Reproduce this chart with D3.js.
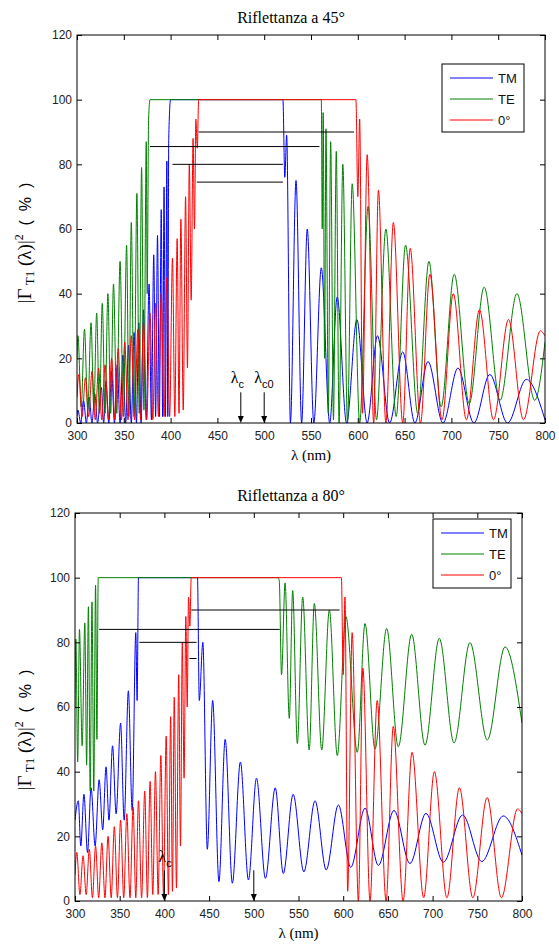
<!DOCTYPE html>
<html>
<head>
<meta charset="utf-8">
<script src="https://cdn.jsdelivr.net/npm/d3@7"></script>
<style>
  body { margin: 0; background: #fff; }
  svg text { font-family: Arial, "Liberation Sans", sans-serif; }
</style>
</head>
<body>
<div id="chart"></div>
<script>
"use strict";

// Reflectance curves [wavelength nm, %], peaks and troughs
const tm45 = [[300,2],[301,4],[304,0],[307,7],[310,0],[313,8],[316,0],[319,9],[322,0],[326,11],[328.5,0],[331,13],[334,0],[337,16],[340,0],[343,18],[346,0],[349,21],[352,0],[355,24],[358,0],[361,28],[363.5,0],[366,31],[368.5,0],[371,35],[374,1],[377,43],[379.5,1],[382,52],[384,2],[386,58],[388,2],[390,66],[391.5,2],[393,73],[394.5,2],[396,81],[397,2],[398,88],[400,100],[520,100],[522,76],[524,89],[528,0],[534,75],[540,0],[546,60],[553,0],[561,48],[570,0],[578,39],[588,0],[599,32],[610,0],[621,27],[634,0],[648,22],[661,0],[675,19],[691,0],[707,17],[724,0],[741,15],[760,0],[780,13.5],[800,1]];

const te45 = [[300,20],[301,27],[304.5,5],[308,29],[311.5,4],[315,31],[318,4],[321,34],[324,3],[327,37],[330,3],[333,40],[336,3],[339,43],[342.5,3],[346,50],[349.5,2],[353,55],[355.5,2],[358,62],[361,2],[364,71],[366.5,3],[369,79],[371.5,4],[374,87],[375,40],[376.5,94],[378,100],[561,100],[562,60],[563,96],[564.5,20],[566,91],[568.5,3],[571,87],[574,1],[577,84],[580,0],[584,80],[589,0],[594,74],[602,0],[611,67],[620,1],[630,60],[641,2],[651,55],[664,3],[676,50],[689,5],[703,46],[719,6],[735,42],[752,7],[770,40],[789,7],[800,25]];

// normal incidence, same curve in both panels
const r0 = [[300,8],[302,15],[305.5,2],[309,14],[312.5,2],[316,16],[319.5,1],[323,17],[326.5,1],[330,18],[333.5,1],[337,20],[340.5,1],[344,23],[347.5,1],[351,25],[354.5,1],[358,27],[361.5,1],[365,29],[368,1],[371,31],[374.5,1],[378,34],[381,1],[384,37],[387,2],[390,40],[393,2],[396,45],[399,2],[402,51],[404.5,2],[407,57],[409,3],[411,63],[413.5,4],[416,70],[418,17],[420,80],[422,38],[424,88],[425.5,60],[427,94],[428.5,85],[430,100],[598,100],[600,70],[602,94],[605,3],[610,83],[617,0],[622,72],[630,0],[638,62],[648,0],[656,54],[667,0],[677,46],[690,1],[702,40],[716,1],[730,35],[745,1],[761,32],[777,1],[795,28.5],[800,27]];

const tm80 = [[300,25],[303.7,31],[306.5,17],[310,33],[314,15],[318,35],[322.5,17],[327,37.5],[331,22],[334.7,41.5],[338,25],[342,48],[346,27],[351,55],[355,25],[359.7,65],[364,28],[368,83],[369.5,62],[371,100],[437,100],[439,62],[443,80],[448,16],[454,62],[461,6],[468,50],[476,5.5],[485,43],[494,6.5],[503,38],[513,7],[524,35],[533,8.5],[544,33],[556,9],[568.5,31],[581,9.6],[594.6,29.7],[608.4,10.4],[624.4,28.7],[639.3,11],[656.8,28],[674.7,11.6],[692.6,27.1],[712,12],[733.6,26.6],[755,12.2],[779,26.3],[800,14.2]];

const te80 = [[300,60],[301,81],[303,43],[305,84],[308,48],[311,86],[313,42],[315,91],[317,34],[319,92.5],[321,34],[323,97.7],[324.5,50],[326,100],[527,100],[528.5,99],[531,70],[535,98.4],[539.7,56.5],[543.5,96],[548.7,48.7],[554.7,94],[562,46.7],[567.7,92],[576,46.7],[584.5,90],[593.4,45],[603,88],[615.8,46],[624.4,85.8],[635.6,47],[648.6,84.3],[661.6,47.7],[676.6,82.5],[691.5,48.2],[707.5,81.2],[724,48.9],[741.8,79.9],[761.2,49.8],[781,78.6],[800,55]];

// band-width markers [from nm, to nm, level %]
const bands45 = [[430,596,90],[378,559,85.5],[402,520,80],[428,520,74.5]];
const bands80 = [[430,596,90],[327,529,84],[372,436,80],[428,436,75]];

// arrows at cut-off wavelengths
const arrows45 = [475, 500];
const arrows80 = [400, 500];

const xTicks = [300, 350, 400, 450, 500, 550, 600, 650, 700, 750, 800];
const yTicks = [0, 20, 40, 60, 80, 100, 120];
const legendNames = ["TM", "TE", "0°"];
const colors = ["#0000ff", "#008000", "#ff0000"];

const W = 559;
const H = 949;

const svg = d3.select("#chart").append("svg").attr("width", W).attr("height", H);

const serif = "'Liberation Serif', 'Times New Roman', serif";

const drawPanel = (p) => {
  const x = d3.scaleLinear().domain([300, 800]).range([p.left, p.right]);
  const y = d3.scaleLinear().domain([0, 120]).range([p.bottom, p.top]);
  const g = svg.append("g");

  g.append("clipPath")
    .attr("id", "clip" + p.id)
    .append("rect")
    .attr("x", p.left)
    .attr("y", p.top)
    .attr("width", p.right - p.left)
    .attr("height", p.bottom - p.top);

  // curves
  const line = d3
    .line()
    .x((d) => x(d[0]))
    .y((d) => y(d[1]))
    .curve(d3.curveMonotoneX);

  p.series.forEach((s, i) => {
    g.append("path")
      .attr("d", line(s))
      .attr("fill", "none")
      .attr("stroke", colors[i])
      .attr("stroke-width", 1)
      .attr("clip-path", `url(#clip${p.id})`);
  });

  // black horizontal markers
  g.selectAll(".band")
    .data(p.bands)
    .enter()
    .append("line")
    .attr("x1", (d) => x(d[0]))
    .attr("x2", (d) => x(d[1]))
    .attr("y1", (d) => y(d[2]))
    .attr("y2", (d) => y(d[2]))
    .attr("stroke", "#000")
    .attr("stroke-width", 1);

  // arrows
  p.arrows.forEach((a) => {
    g.append("line")
      .attr("x1", x(a))
      .attr("x2", x(a))
      .attr("y1", y(9.5))
      .attr("y2", y(0) - 5)
      .attr("stroke", "#000");
    g.append("path")
      .attr("d", `M${x(a) - 3},${y(0) - 7} L${x(a) + 3},${y(0) - 7} L${x(a)},${y(0)} Z`)
      .attr("fill", "#000");
  });

  // axes, ticks pointing inwards
  const axStyle = (sel) => {
    sel.select(".domain").remove();
    sel.selectAll("line").attr("stroke", "#000");
    sel.selectAll("text").attr("font-size", 12).attr("fill", "#222");
  };
  g.append("g")
    .attr("transform", `translate(0,${p.bottom})`)
    .call(d3.axisBottom(x).tickValues(xTicks).tickSize(-5).tickPadding(8))
    .call(axStyle);
  g.append("g")
    .attr("transform", `translate(0,${p.top})`)
    .call(d3.axisTop(x).tickValues(xTicks).tickSize(-5).tickFormat(""))
    .call(axStyle);
  g.append("g")
    .attr("transform", `translate(${p.left},0)`)
    .call(d3.axisLeft(y).tickValues(yTicks).tickSize(-5).tickPadding(5))
    .call(axStyle);
  g.append("g")
    .attr("transform", `translate(${p.right},0)`)
    .call(d3.axisRight(y).tickValues(yTicks).tickSize(-5).tickFormat(""))
    .call(axStyle);

  g.append("rect")
    .attr("x", p.left)
    .attr("y", p.top)
    .attr("width", p.right - p.left)
    .attr("height", p.bottom - p.top)
    .attr("fill", "none")
    .attr("stroke", "#000");

  // title
  g.append("text")
    .attr("x", p.titleX)
    .attr("y", p.top - 12)
    .attr("text-anchor", "middle")
    .attr("font-size", 16)
    .style("font-family", serif)
    .text(p.title);

  // x label
  g.append("text")
    .attr("x", (p.left + p.right) / 2)
    .attr("y", p.bottom + 37)
    .attr("text-anchor", "middle")
    .attr("font-size", 15)
    .style("font-family", serif)
    .text("λ (nm)");

  // y label
  const yl = g
    .append("text")
    .attr("transform", `translate(31,${p.yLabelY}) rotate(-90)`)
    .attr("text-anchor", "middle")
    .attr("font-size", 19)
    .style("font-family", serif);
  yl.append("tspan").text("|Γ");
  yl.append("tspan").attr("font-size", 13).attr("dy", 3).text(" T1");
  yl.append("tspan").attr("dy", -3).text(" (λ)|");
  yl.append("tspan").attr("font-size", 12).attr("dy", -8).text("2");
  yl.append("tspan")
    .attr("dy", 8)
    .style("font-family", "Arial, sans-serif")
    .attr("font-size", 16)
    .attr("xml:space", "preserve")
    .text("  (  %  )");

  // cut-off labels
  p.lambdaLabels.forEach((l) => {
    const t = g
      .append("text")
      .attr("x", x(l.at) + l.dx)
      .attr("y", y(l.level))
      .attr("font-size", 16)
      .style("font-family", serif);
    t.append("tspan").text("λ");
    t.append("tspan").attr("dy", 5).attr("font-size", 11).style("font-family", "Arial, sans-serif").text(l.sub);
  });

  // legend
  const lg = g.append("g").attr("transform", `translate(${p.legend.x},${p.legend.y})`);
  lg.append("rect")
    .attr("width", p.legend.w)
    .attr("height", p.legend.h)
    .attr("fill", "#fff")
    .attr("stroke", "#000");
  legendNames.forEach((name, i) => {
    const ly = 14 + i * 21;
    lg.append("line")
      .attr("x1", 8)
      .attr("x2", 51)
      .attr("y1", ly)
      .attr("y2", ly)
      .attr("stroke", colors[i]);
    lg.append("text")
      .attr("x", 56)
      .attr("y", ly + 5)
      .attr("font-size", 13)
      .attr("fill", "#111")
      .text(name);
  });
};

drawPanel({
  id: 45,
  left: 77,
  right: 545,
  top: 35,
  bottom: 423,
  title: "Riflettanza a 45°",
  titleX: 291,
  yLabelY: 243,
  series: [tm45, te45, r0],
  bands: bands45,
  arrows: arrows45,
  lambdaLabels: [
    { at: 475, dx: -10, level: 12.5, sub: "c" },
    { at: 500, dx: -10, level: 12.5, sub: "c0" },
  ],
  legend: { x: 442, y: 64, w: 82, h: 68 },
});

drawPanel({
  id: 80,
  left: 75,
  right: 522,
  top: 513,
  bottom: 901,
  title: "Riflettanza a 80°",
  titleX: 291,
  yLabelY: 730,
  series: [tm80, te80, r0],
  bands: bands80,
  arrows: arrows80,
  lambdaLabels: [{ at: 400, dx: -6, level: 12, sub: "c" }],
  legend: { x: 433, y: 519, w: 78, h: 69 },
});
</script>
</body>
</html>
